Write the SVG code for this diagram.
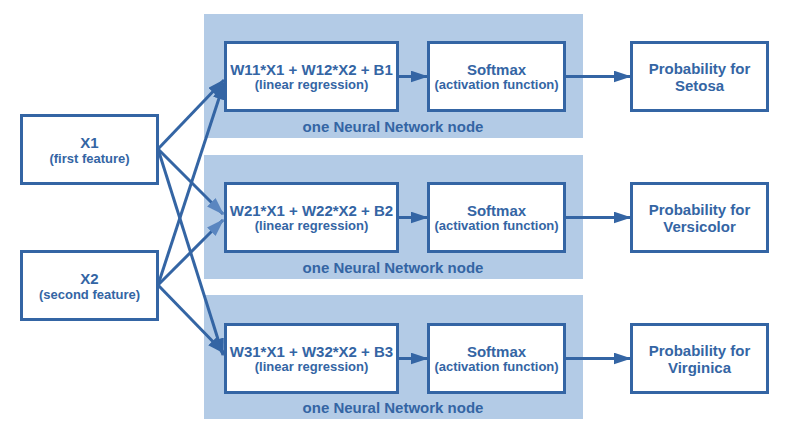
<svg xmlns="http://www.w3.org/2000/svg" width="800" height="444" viewBox="0 0 800 444">
<defs>
<style>
.panel{fill:#b3cbe6;}
.box{fill:#ffffff;stroke:#3465a4;stroke-width:3;}
.t{font-family:"Liberation Sans",Arial,sans-serif;font-weight:bold;fill:#3465a4;text-anchor:middle;}
.t1{font-size:15px;}
.t2{font-size:13px;}
.edge{stroke:#3465a4;stroke-width:3;fill:none;marker-end:url(#ah);}
.edge2{stroke:#3465a4;stroke-width:3;fill:none;marker-end:url(#ah2);}
</style>
<marker id="ah" viewBox="0 0 12 8" refX="11" refY="4" markerWidth="6" markerHeight="4" orient="auto" markerUnits="strokeWidth">
<path d="M0,0 L12,4 L0,8 z" fill="#3465a4"/>
</marker>
<marker id="ah2" viewBox="0 0 12 8" refX="11" refY="4" markerWidth="6" markerHeight="4" orient="auto" markerUnits="strokeWidth">
<path d="M0,0 L12,4 L0,8 z" fill="#5a86c0"/>
</marker>
</defs>
<rect width="800" height="444" fill="#ffffff"/>
<g id="panel1">
<rect class="panel" x="204" y="14" width="379" height="124"/>
<text class="t t1" x="393" y="132">one Neural Network node</text>
</g>
<g id="panel2">
<rect class="panel" x="204" y="155" width="379" height="124"/>
<text class="t t1" x="393" y="273">one Neural Network node</text>
</g>
<g id="panel3">
<rect class="panel" x="204" y="295" width="379" height="124"/>
<text class="t t1" x="393" y="413">one Neural Network node</text>
</g>
<g id="x1">
<rect class="box" x="21.5" y="115.5" width="136" height="68"/>
<text class="t t1" x="89.5" y="147.5">X1</text>
<text class="t t2" x="89.5" y="162.5">(first feature)</text>
</g>
<g id="x2">
<rect class="box" x="21.5" y="251.5" width="136" height="68"/>
<text class="t t1" x="89.5" y="283.5">X2</text>
<text class="t t2" x="89.5" y="298.5">(second feature)</text>
</g>
<g id="lin1">
<rect class="box" x="225.5" y="42.5" width="172" height="68"/>
<text class="t t1" x="311.5" y="74.5">W11*X1 + W12*X2 + B1</text>
<text class="t t2" x="311.5" y="89">(linear regression)</text>
</g>
<g id="lin2">
<rect class="box" x="225.5" y="183.5" width="172" height="68"/>
<text class="t t1" x="311.5" y="215.5">W21*X1 + W22*X2 + B2</text>
<text class="t t2" x="311.5" y="230">(linear regression)</text>
</g>
<g id="lin3">
<rect class="box" x="225.5" y="324.5" width="172" height="68"/>
<text class="t t1" x="311.5" y="356.5">W31*X1 + W32*X2 + B3</text>
<text class="t t2" x="311.5" y="371">(linear regression)</text>
</g>
<g id="soft1">
<rect class="box" x="428.5" y="42.5" width="136" height="68"/>
<text class="t t1" x="496.5" y="74.5">Softmax</text>
<text class="t t2" x="496.5" y="89">(activation function)</text>
</g>
<g id="soft2">
<rect class="box" x="428.5" y="183.5" width="136" height="68"/>
<text class="t t1" x="496.5" y="215.5">Softmax</text>
<text class="t t2" x="496.5" y="230">(activation function)</text>
</g>
<g id="soft3">
<rect class="box" x="428.5" y="324.5" width="136" height="68"/>
<text class="t t1" x="496.5" y="356.5">Softmax</text>
<text class="t t2" x="496.5" y="371">(activation function)</text>
</g>
<g id="prob1">
<rect class="box" x="631.5" y="42.5" width="136" height="68"/>
<text class="t t1" x="699.5" y="73.5">Probability for</text>
<text class="t t1" x="699.5" y="90.5">Setosa</text>
</g>
<g id="prob2">
<rect class="box" x="631.5" y="183.5" width="136" height="68"/>
<text class="t t1" x="699.5" y="214.5">Probability for</text>
<text class="t t1" x="699.5" y="231.5">Versicolor</text>
</g>
<g id="prob3">
<rect class="box" x="631.5" y="324.5" width="136" height="68"/>
<text class="t t1" x="699.5" y="355.5">Probability for</text>
<text class="t t1" x="699.5" y="372.5">Virginica</text>
</g>
<g id="connectors">
<line class="edge" x1="158" y1="149" x2="224" y2="80"/>
<line class="edge" x1="158" y1="285" x2="224" y2="83"/>
<line class="edge2" x1="158" y1="149" x2="223" y2="214"/>
<line class="edge2" x1="158" y1="285" x2="223" y2="220"/>
<line class="edge" x1="158" y1="149" x2="223" y2="355"/>
<line class="edge" x1="158" y1="285" x2="224" y2="353"/>
<line class="edge" x1="398" y1="76.5" x2="427" y2="76.5"/>
<line class="edge" x1="565" y1="76.5" x2="630" y2="76.5"/>
<line class="edge" x1="398" y1="217.5" x2="427" y2="217.5"/>
<line class="edge" x1="565" y1="217.5" x2="630" y2="217.5"/>
<line class="edge" x1="398" y1="358.5" x2="427" y2="358.5"/>
<line class="edge" x1="565" y1="358.5" x2="630" y2="358.5"/>
</g>
</svg>
